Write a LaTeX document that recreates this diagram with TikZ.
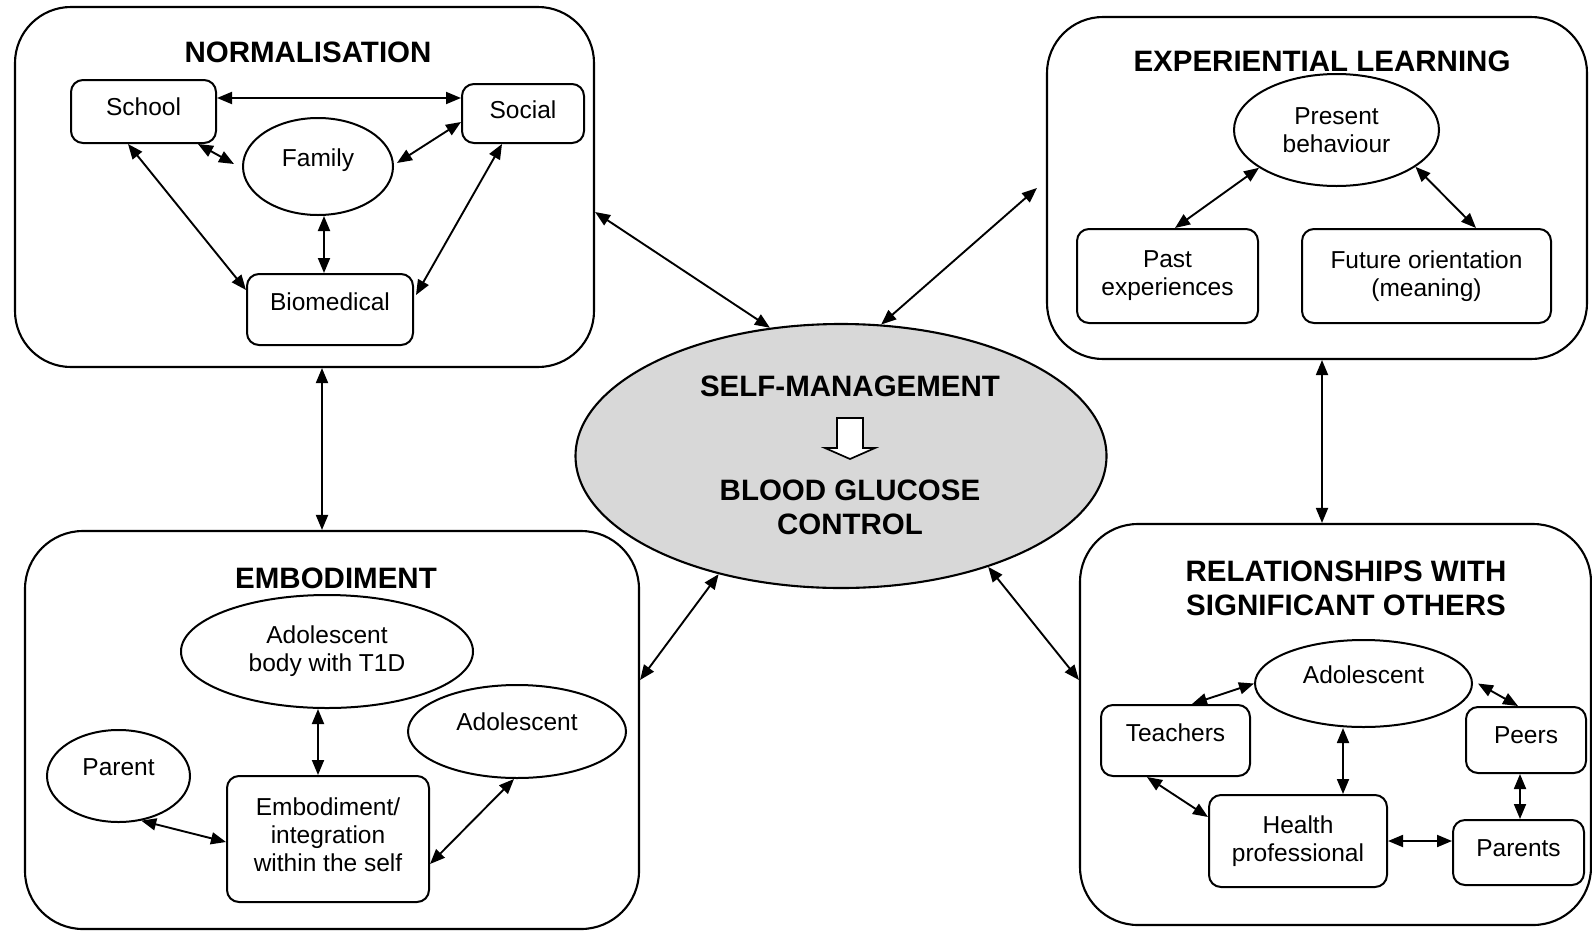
\documentclass[tikz,border=0pt]{standalone}
\usepackage{fontspec}
\setmainfont{Liberation Sans}
\usetikzlibrary{arrows.meta,shapes.geometric}
\newcommand\dgbody{\fontsize{24.5}{28}\selectfont}
\newcommand\dgtitle{\bfseries\fontsize{29.5}{33.5}\selectfont}
\definecolor{centralgrey}{RGB}{216,216,216}
\tikzset{
  outerbox/.style={draw, line width=2.1pt, rounded corners=56pt, inner sep=0pt},
  innerbox/.style={draw, line width=2pt, rounded corners=12pt, inner sep=0pt, align=center, font=\dgbody},
  oval/.style={draw, line width=2pt, ellipse, inner sep=0pt, align=center, font=\dgbody},
  ttl/.style={font=\dgtitle, align=center, inner sep=0pt},
  bi/.style={{Triangle[length=15pt,width=12pt]}-{Triangle[length=15pt,width=12pt]}, line width=1.9pt},
}
\begin{document}
\begin{tikzpicture}[x=1pt,y=-1pt]
\useasboundingbox (0,0) rectangle (1592,932);
\fill[white] (0,0) rectangle (1592,932);

% ---------- outer boxes ----------
\node[outerbox, minimum width=579pt, minimum height=360pt] (norm) at (304.5,187) {};
\node[outerbox, minimum width=540pt, minimum height=342pt] (exper) at (1317,188) {};
\node[outerbox, minimum width=614pt, minimum height=398pt, rounded corners=58pt] (emb) at (332,730) {};
\node[outerbox, minimum width=511pt, minimum height=401pt, rounded corners=58pt] (rel) at (1335.5,724.5) {};

% ---------- titles ----------
\node[ttl] (t1) at (308,52) {NORMALISATION};
\node[ttl] (t2) at (1322,61) {EXPERIENTIAL LEARNING};
\node[ttl] (t3) at (336,578) {EMBODIMENT};
\node[ttl] (t4) at (1346,588.5) {RELATIONSHIPS WITH\\SIGNIFICANT OTHERS};

% ---------- central ellipse ----------
\node[draw, ellipse, line width=2.1pt, fill=centralgrey, minimum width=531pt, minimum height=264pt, inner sep=0pt] (central) at (841,456) {};
\node[ttl] (sm) at (850,386) {SELF-MANAGEMENT};
\node[ttl] (bg) at (850,507.5) {BLOOD GLUCOSE\\CONTROL};
\draw[line width=1.7pt, fill=white, line join=miter]
  (837,418) -- (863,418) -- (863,448) -- (875,448) -- (850,459) -- (825,448) -- (837,448) -- cycle;

% ---------- normalisation ----------
\node[innerbox, minimum width=145pt, minimum height=63pt, text depth=9pt] (school) at (143.5,111.5) {School};
\node[innerbox, minimum width=122pt, minimum height=59pt, text depth=7pt] (social) at (523,113.5) {Social};
\node[oval, minimum width=150pt, minimum height=97pt, text depth=18pt] (fam) at (318,166.5) {Family};
\node[innerbox, minimum width=166pt, minimum height=71pt, text depth=15pt] (bio) at (330,309.5) {Biomedical};

\draw[bi] ([yshift=13.5pt]school.east) -- ([yshift=13.5pt]school.east -| social.west);
\draw[bi] ([xshift=-19pt]school.south east) -- ([xshift=-8pt,yshift=2.5pt]fam.west);
\draw[bi] ([yshift=-8.5pt]social.west) -- ([xshift=3pt,yshift=3.5pt]fam.east);
\draw[bi] ([xshift=-15.5pt]school.south) -- ([yshift=19.5pt]bio.west);
\draw[bi] ([xshift=-21pt]social.south) -- ([xshift=2pt,yshift=14.5pt]bio.east);
\draw[bi] ([xshift=6pt]fam.south) -- ([xshift=6pt]fam.south |- bio.north);

% ---------- experiential learning ----------
\node[oval, minimum width=205pt, minimum height=112pt] (pres) at (1336.5,130) {Present\\behaviour};
\node[innerbox, minimum width=181pt, minimum height=94pt] (past) at (1167.5,276) {Past\\experiences};
\node[innerbox, minimum width=249pt, minimum height=94pt] (fut) at (1426.5,276) {Future orientation\\(meaning)};

\draw[bi] ([xshift=7.5pt]past.north) -- (pres.206);
\draw[bi] ([xshift=49.5pt]fut.north) -- (pres.335);

% ---------- embodiment ----------
\node[oval, minimum width=292pt, minimum height=113pt] (body) at (327,651.5) {Adolescent\\body with T1D};
\node[oval, minimum width=218pt, minimum height=93pt, text depth=19pt] (adolA) at (517,731.5) {Adolescent};
\node[oval, minimum width=143pt, minimum height=92pt, text depth=18pt] (parent) at (118.5,776) {Parent};
\node[innerbox, minimum width=202pt, minimum height=126pt, text depth=9pt] (embx) at (328,839) {Embodiment/\\integration\\within the self};

\draw[bi] ([xshift=-10pt]embx.north) -- ([xshift=-10pt]embx.north |- body.south);
\draw[bi] (parent.297) -- ([yshift=-3pt]embx.west);
\draw[bi] ([xshift=-3pt]adolA.south) -- ([yshift=-25pt]embx.east);

% ---------- relationships ----------
\node[oval, minimum width=217pt, minimum height=87pt, text depth=17pt] (adolB) at (1363.5,683.5) {Adolescent};
\node[innerbox, minimum width=149pt, minimum height=71pt, text depth=15pt] (teach) at (1175.5,740.5) {Teachers};
\node[innerbox, minimum width=120pt, minimum height=66pt, text depth=10pt] (peers) at (1526,740) {Peers};
\node[innerbox, minimum width=178pt, minimum height=92pt] (health) at (1298,841) {Health\\professional};
\node[innerbox, minimum width=131pt, minimum height=65pt, text depth=9pt] (parents) at (1518.5,852.5) {Parents};

\draw[bi] ([xshift=16.5pt]teach.north) -- (adolB.west);
\draw[bi] ([xshift=5pt]adolB.east) -- ([xshift=-8pt]peers.north);
\draw[bi] ([xshift=45pt]health.north) -- ([xshift=45pt]health.north |- adolB.south);
\draw[bi] ([xshift=-28.5pt]teach.south) -- ([yshift=24pt]health.west);
\draw[bi] (health.east) -- (health.east -| parents.west);
\draw[bi] ([xshift=-6pt]peers.south) -- ([xshift=-6pt]peers.south |- parents.north);

% ---------- connections between the themes ----------
\draw[bi] ([yshift=-25pt]norm.east) -- (central.119);
\draw[bi] ([xshift=-9pt]exper.west) -- (central.73);
\draw[bi] ([xshift=17.5pt]norm.south) -- ([xshift=17.5pt]norm.south |- emb.north);
\draw[bi] ([xshift=5pt]exper.south) -- ([xshift=5pt]exper.south |- rel.north);
\draw[bi] ([yshift=50pt]emb.east) -- (central.224);
\draw[bi] ([yshift=44.5pt]rel.west) -- (central.323);
\end{tikzpicture}
\end{document}
